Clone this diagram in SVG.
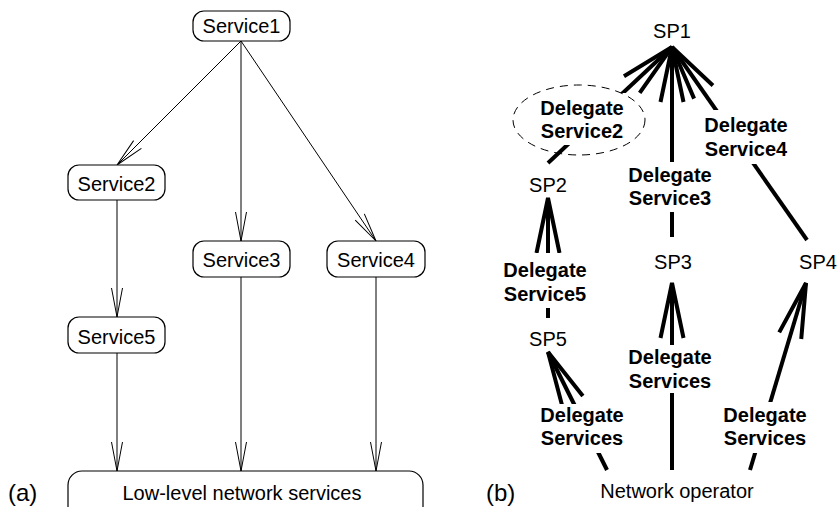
<svg xmlns="http://www.w3.org/2000/svg" width="838" height="507" viewBox="0 0 838 507">
<style>
.box{fill:#fff;stroke:#000;stroke-width:1.2}
.t{font-family:"Liberation Sans",Arial,sans-serif;font-size:20px;fill:#000;text-anchor:middle}
.b{font-family:"Liberation Sans",Arial,sans-serif;font-size:20px;font-weight:bold;fill:#000;text-anchor:middle}
.cap{font-family:"Liberation Sans",Arial,sans-serif;font-size:24px;fill:#000}
.thin{stroke:#000;stroke-width:1;fill:none;marker-end:url(#va)}
.thick{stroke:#000;stroke-width:4;fill:none;marker-end:url(#vb)}
.bg{fill:#fff}
</style>
<defs>
<marker id="va" markerUnits="userSpaceOnUse" orient="auto" overflow="visible" refX="0" refY="0" markerWidth="1" markerHeight="1">
<path d="M-29,-5.5 L0,0 L-29,5.5" fill="none" stroke="#000" stroke-width="1"/>
</marker>
<marker id="vb" markerUnits="userSpaceOnUse" orient="auto" overflow="visible" refX="0" refY="0" markerWidth="1" markerHeight="1">
<path d="M-55,-11.5 L0,0 L-55,11.5" fill="none" stroke="#000" stroke-width="4"/>
</marker>
</defs>

<g id="connectors-a">
<line class="thin" x1="241" y1="41" x2="117" y2="165"/>
<line class="thin" x1="241" y1="41" x2="241" y2="241"/>
<line class="thin" x1="241" y1="41" x2="376" y2="241"/>
<line class="thin" x1="117" y1="200" x2="117" y2="317"/>
<line class="thin" x1="117" y1="353" x2="117" y2="471"/>
<line class="thin" x1="241" y1="277" x2="241" y2="471"/>
<line class="thin" x1="376" y1="277" x2="376" y2="471"/>
</g>

<g id="service1"><rect class="box" x="193" y="11" width="97" height="30" rx="11"/><text class="t" x="241.5" y="33">Service1</text></g>
<g id="service2"><rect class="box" x="68" y="165" width="97" height="35" rx="11"/><text class="t" x="116.5" y="191">Service2</text></g>
<g id="service3"><rect class="box" x="193" y="241" width="97" height="36" rx="11"/><text class="t" x="241.5" y="267">Service3</text></g>
<g id="service4"><rect class="box" x="327" y="241" width="98" height="36" rx="11"/><text class="t" x="376" y="267">Service4</text></g>
<g id="service5"><rect class="box" x="68" y="317" width="97" height="36" rx="11"/><text class="t" x="116.5" y="344">Service5</text></g>
<g id="lowlevel"><rect class="box" x="68" y="471" width="355" height="60" rx="14"/><text class="t" x="242" y="500">Low-level network services</text></g>
<text class="cap" x="8" y="501">(a)</text>

<g id="connectors-b">
<line class="thick" x1="548" y1="163" x2="672" y2="47"/>
<line class="thick" x1="672" y1="237" x2="672" y2="47"/>
<line class="thick" x1="807" y1="240" x2="672" y2="47"/>
<line class="thick" x1="548" y1="318" x2="548" y2="198"/>
<line class="thick" x1="607" y1="470" x2="548" y2="352"/>
<line class="thick" x1="672" y1="470" x2="672" y2="283"/>
<line class="thick" x1="750" y1="470" x2="806" y2="283"/>
</g>

<g id="sp1"><text class="t" x="672" y="38">SP1</text></g>
<g id="sp2"><text class="t" x="548" y="192">SP2</text></g>
<g id="sp3"><text class="t" x="673" y="269">SP3</text></g>
<g id="sp4"><text class="t" x="818" y="269">SP4</text></g>
<g id="sp5"><text class="t" x="548" y="346">SP5</text></g>
<g id="netop"><text class="t" x="677" y="498">Network operator</text></g>
<text class="cap" x="486" y="501">(b)</text>

<g id="label-ds2">
<rect class="bg" x="535" y="93" width="95" height="52"/>
<ellipse cx="579" cy="120" rx="66" ry="35" fill="none" stroke="#000" stroke-width="1" stroke-dasharray="8,6"/>
<text class="b" x="582" y="115">Delegate</text><text class="b" x="582" y="138">Service2</text>
</g>
<g id="label-ds3">
<rect class="bg" x="625" y="162" width="92" height="50"/>
<text class="b" x="670" y="182">Delegate</text><text class="b" x="670" y="205">Service3</text>
</g>
<g id="label-ds4">
<rect class="bg" x="700" y="110" width="94" height="54"/>
<text class="b" x="746" y="132">Delegate</text><text class="b" x="746" y="156">Service4</text>
</g>
<g id="label-ds5">
<rect class="bg" x="500" y="253" width="92" height="55"/>
<text class="b" x="545" y="277">Delegate</text><text class="b" x="545" y="301">Service5</text>
</g>
<g id="label-dsa">
<rect class="bg" x="537" y="404" width="92" height="49"/>
<text class="b" x="582" y="422">Delegate</text><text class="b" x="582" y="445">Services</text>
</g>
<g id="label-dsb">
<rect class="bg" x="625" y="345" width="92" height="48"/>
<text class="b" x="670" y="364">Delegate</text><text class="b" x="670" y="388">Services</text>
</g>
<g id="label-dsc">
<rect class="bg" x="720" y="402" width="92" height="51"/>
<text class="b" x="765" y="422">Delegate</text><text class="b" x="765" y="445">Services</text>
</g>
</svg>
